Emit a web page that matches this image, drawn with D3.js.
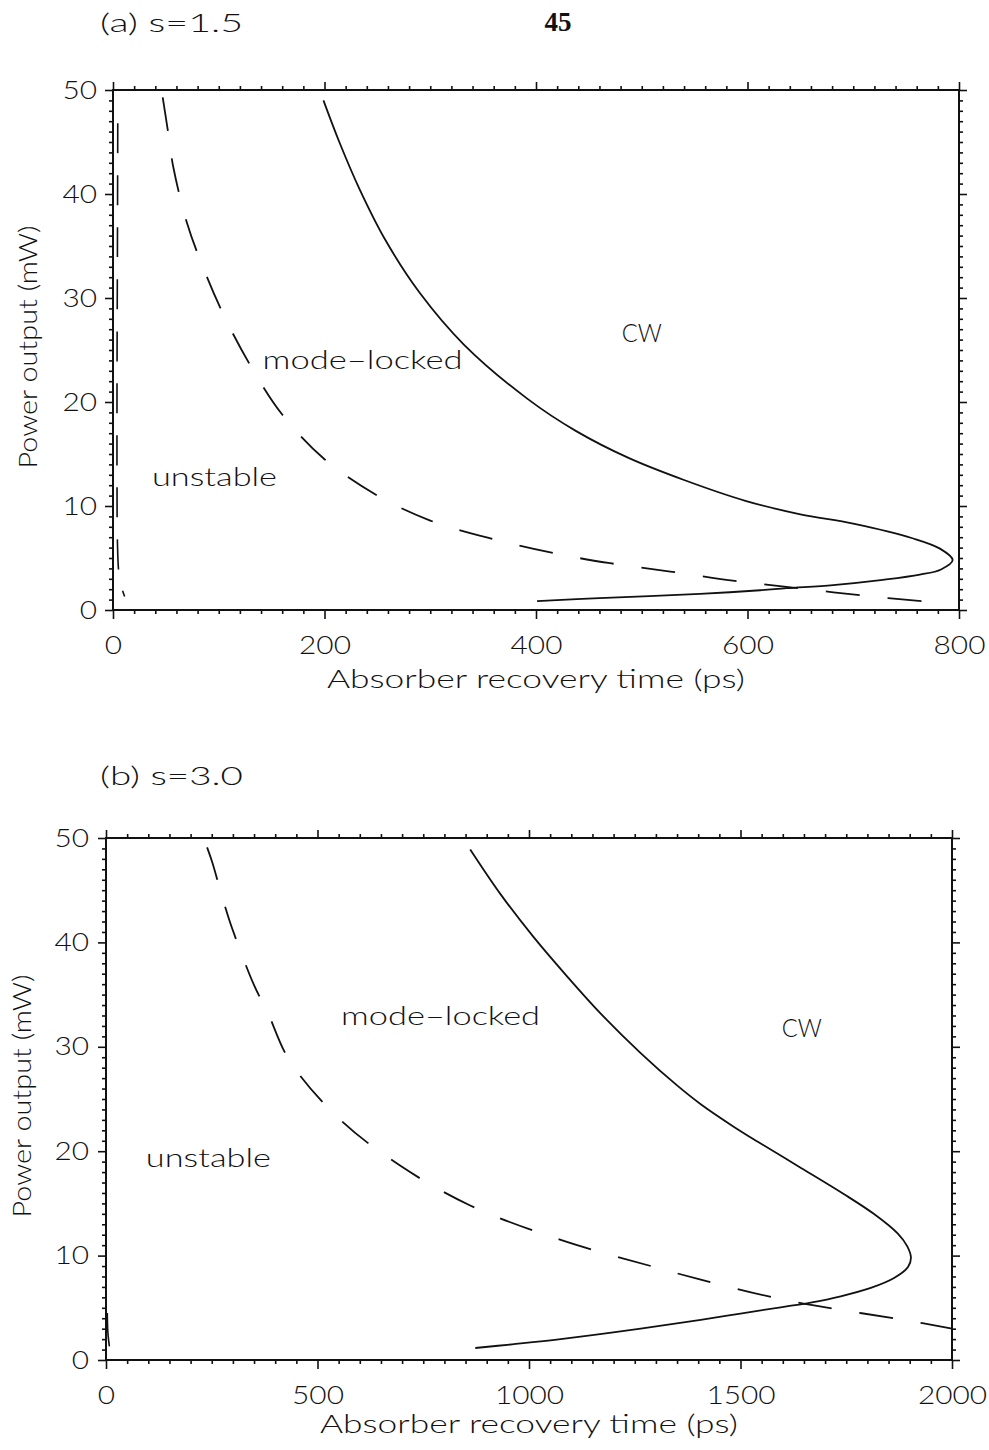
<!DOCTYPE html>
<html>
<head>
<meta charset="utf-8">
<script src="https://cdn.jsdelivr.net/npm/d3@7"></script>
<style>
  html, body { margin: 0; padding: 0; background: #fff; }
  svg { display: block; }
  text { font-family: "Lato", "DejaVu Sans", sans-serif; font-weight: 300; fill: #111; }
</style>
</head>
<body>
<script>
// Stability boundaries of the mode-locked laser: power output vs absorber recovery time.
const yTicks = [0, 10, 20, 30, 40, 50];
const xTicksA = [0, 200, 400, 600, 800];
const xTicksB = [0, 500, 1000, 1500, 2000];

// (a) s = 1.5  — [recovery time (ps), power (mW)]
const cwBoundaryA = [
  [199, 49.0], [214, 45.0], [233, 40.5], [258, 35.5], [290, 30.5], [332, 25.5],
  [392, 20.3], [438, 17.2], [488, 14.6], [540, 12.5], [598, 10.5], [650, 9.2],
  [700, 8.3], [756, 6.9], [782, 5.9], [794, 4.8], [783, 3.9], [763, 3.4],
  [728, 2.9], [681, 2.4], [637, 2.1], [612, 1.9], [555, 1.55], [460, 1.15], [401, 0.85]
];
const mlBoundaryA = [
  [47, 49.3], [52, 46.0], [57, 42.6], [70, 37.2], [83, 33.5], [104, 28.5],
  [130, 23.5], [160, 18.8], [200, 14.5], [250, 11.0], [300, 8.6], [360, 6.8],
  [420, 5.4], [470, 4.5], [527, 3.7], [588, 2.8], [643, 2.15], [708, 1.4], [770, 0.8]
];
const edgeA = [
  [4.5, 46.8], [4.2, 35], [3.8, 22], [3.8, 12], [4.2, 6.5], [5.5, 3.6], [8, 2.2], [11, 1.3]
];

// (b) s = 3.0
const cwBoundaryB = [
  [861, 48.9], [933, 44.6], [1011, 40.5], [1091, 36.7], [1169, 33.2], [1264, 29.4],
  [1350, 26.3], [1406, 24.5], [1482, 22.4], [1541, 20.9], [1643, 18.4], [1744, 15.9],
  [1815, 14.0], [1872, 12.1], [1894, 10.9], [1903, 9.8], [1896, 8.9], [1863, 7.85],
  [1808, 6.9], [1737, 6.1], [1666, 5.5], [1595, 5.05], [1500, 4.45], [1406, 3.85],
  [1264, 3.0], [1075, 2.0], [960, 1.5], [873, 1.15]
];
const mlBoundaryB = [
  [239, 49.1], [251, 47.7], [273, 44.6], [296, 41.6], [350, 35.9], [381, 33.4],
  [435, 28.6], [554, 23.0], [696, 18.6], [861, 14.8], [1075, 11.5], [1288, 9.0],
  [1406, 7.7], [1588, 5.9], [1737, 4.8], [1886, 3.85], [2000, 3.0]
];
const edgeB = [
  [3, 4.5], [4.5, 2.6], [8, 1.3]
];

const regionLabelsA = [
  { text: "mode–locked", t: 236, p: 24.0, w: 200 },
  { text: "unstable", t: 96, p: 12.8, w: 125 },
  { text: "CW", t: 500, p: 26.6, w: 40 }
];
const regionLabelsB = [
  { text: "mode–locked", t: 791, p: 32.9, w: 199 },
  { text: "unstable", t: 242, p: 19.3, w: 125 },
  { text: "CW", t: 1645, p: 31.8, w: 40 }
];

const svg = d3.select("body").append("svg")
  .attr("width", 989).attr("height", 1450);

svg.append("rect").attr("width", 989).attr("height", 1450).attr("fill", "#fff");

// page number
svg.append("text").attr("x", 558).attr("y", 31).attr("text-anchor", "middle")
  .style("font-family", "'Liberation Serif', serif").style("font-weight", 700)
  .style("font-size", "27px").text("45");

const DIGIT_W = 17.3;

function drawPanel(cfg) {
  const x = d3.scaleLinear().domain([0, cfg.xMax]).range([cfg.left, cfg.right]);
  const y = d3.scaleLinear().domain([0, 50]).range([cfg.bottom, cfg.top]);
  const g = svg.append("g");

  const xMinor = d3.range(0, cfg.xMax + 1e-9, cfg.xMinorStep).filter(v => !cfg.xTicks.includes(v));
  const yMinor = d3.range(0, 50.001, 1).filter(v => !yTicks.includes(v));

  const styleAxis = sel => {
    sel.select(".domain").remove();
    sel.selectAll("line").attr("stroke", "#111").attr("stroke-width", 1.6);
  };
  const styleLabels = sel => {
    sel.selectAll("text")
      .attr("font-size", null).attr("font-family", null)
      .style("font-size", "25px")
      .attr("textLength", d => String(d).length * DIGIT_W)
      .attr("lengthAdjust", "spacingAndGlyphs");
  };

  // minor ticks on all four sides
  g.append("g").attr("transform", `translate(0,${cfg.bottom})`)
    .call(d3.axisBottom(x).tickValues(xMinor).tickSize(4).tickFormat("")).call(styleAxis);
  g.append("g").attr("transform", `translate(0,${cfg.top})`)
    .call(d3.axisTop(x).tickValues(xMinor).tickSize(4).tickFormat("")).call(styleAxis);
  g.append("g").attr("transform", `translate(${cfg.left},0)`)
    .call(d3.axisLeft(y).tickValues(yMinor).tickSize(4).tickFormat("")).call(styleAxis);
  g.append("g").attr("transform", `translate(${cfg.right},0)`)
    .call(d3.axisRight(y).tickValues(yMinor).tickSize(4).tickFormat("")).call(styleAxis);

  // major ticks with labels
  g.append("g").attr("transform", `translate(0,${cfg.bottom})`)
    .call(d3.axisBottom(x).tickValues(cfg.xTicks).tickSize(9).tickPadding(17).tickFormat(d3.format("d")))
    .call(styleAxis).call(styleLabels);
  g.append("g").attr("transform", `translate(0,${cfg.top})`)
    .call(d3.axisTop(x).tickValues(cfg.xTicks).tickSize(8).tickFormat("")).call(styleAxis);
  g.append("g").attr("transform", `translate(${cfg.left},0)`)
    .call(d3.axisLeft(y).tickValues(yTicks).tickSize(8).tickPadding(cfg.yPad).tickFormat(d3.format("d")))
    .call(styleAxis).call(styleLabels);
  g.append("g").attr("transform", `translate(${cfg.right},0)`)
    .call(d3.axisRight(y).tickValues(yTicks).tickSize(8).tickFormat("")).call(styleAxis);

  // frame
  g.append("rect")
    .attr("x", cfg.left).attr("y", cfg.top)
    .attr("width", cfg.right - cfg.left).attr("height", cfg.bottom - cfg.top)
    .attr("fill", "none").attr("stroke", "#111").attr("stroke-width", 2);

  const line = d3.line().x(d => x(d[0])).y(d => y(d[1])).curve(d3.curveCatmullRom.alpha(0.5));

  g.append("path").datum(cfg.cw).attr("d", line)
    .attr("fill", "none").attr("stroke", "#111").attr("stroke-width", 1.8)
    .attr("stroke-linejoin", "round");
  g.append("path").datum(cfg.ml).attr("d", line)
    .attr("fill", "none").attr("stroke", "#111").attr("stroke-width", 1.8)
    .attr("stroke-dasharray", "34,28");
  g.append("path").datum(cfg.edge).attr("d", line)
    .attr("fill", "none").attr("stroke", "#111").attr("stroke-width", 1.6)
    .attr("stroke-dasharray", cfg.edgeDash);

  // region labels
  cfg.labels.forEach(l => {
    g.append("text").attr("x", x(l.t)).attr("y", y(l.p))
      .attr("text-anchor", "middle").attr("dy", "0.35em")
      .attr("textLength", l.w).attr("lengthAdjust", "spacingAndGlyphs")
      .style("font-size", "25px").text(l.text);
  });

  // axis titles
  g.append("text")
    .attr("x", (cfg.left + cfg.right) / 2).attr("y", cfg.xTitleY)
    .attr("text-anchor", "middle").attr("textLength", 418).attr("lengthAdjust", "spacingAndGlyphs")
    .style("font-size", "25px").text("Absorber recovery time (ps)");
  g.append("text")
    .attr("transform", `translate(${cfg.yTitleX},${(cfg.top + cfg.bottom) / 2 - 3}) rotate(-90)`)
    .attr("text-anchor", "middle").attr("textLength", 243).attr("lengthAdjust", "spacingAndGlyphs")
    .style("font-size", "25px").text("Power output (mW)");

  // panel title
  g.append("text").attr("x", 100).attr("y", cfg.titleY)
    .attr("textLength", 143).attr("lengthAdjust", "spacingAndGlyphs")
    .style("font-size", "25px").text(cfg.title);
}

drawPanel({
  left: 113, right: 959, top: 90, bottom: 610, xMax: 800, xMinorStep: 20,
  xTicks: xTicksA, yPad: 8, cw: cwBoundaryA, ml: mlBoundaryA, edge: edgeA,
  edgeDash: "30,22", labels: regionLabelsA, xTitleY: 688, yTitleX: 37,
  title: "(a) s=1.5", titleY: 32
});

drawPanel({
  left: 106, right: 952, top: 838, bottom: 1360, xMax: 2000, xMinorStep: 50,
  xTicks: xTicksB, yPad: 9, cw: cwBoundaryB, ml: mlBoundaryB, edge: edgeB,
  edgeDash: "none", labels: regionLabelsB, xTitleY: 1433, yTitleX: 31,
  title: "(b) s=3.0", titleY: 785
});
</script>
</body>
</html>
